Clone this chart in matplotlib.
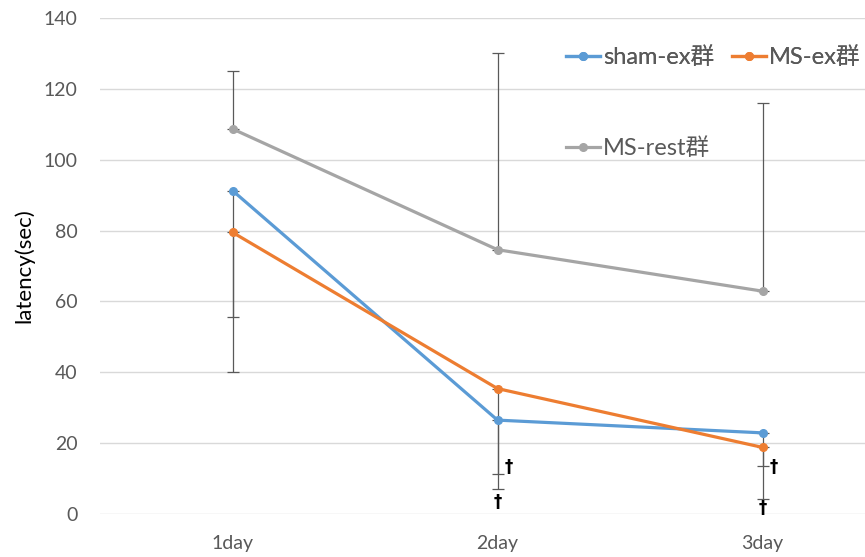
import matplotlib.pyplot as plt

plt.rcParams['font.family'] = ['Lato', 'Noto Sans CJK JP', 'DejaVu Sans']

days = ['1day', '2day', '3day']
sham_ex = [91.3, 26.5, 22.9]
ms_ex = [79.5, 35.4, 18.8]
ms_rest = [108.7, 74.6, 62.9]

# one-sided error bars (Excel style): sham/MS-ex go down, MS-rest goes up
sham_err_low = [51.3, 19.4, 18.7]
ms_ex_err_low = [23.9, 24.1, 5.2]
rest_err_high = [16.2, 55.6, 53.1]

# dagger marks (category index, value, x offset)
daggers = [(1, 13.2, 0.042), (1, 3.4, 0.0), (2, 13.4, 0.042), (2, 1.6, 0.0)]

blue = '#5B9BD5'
orange = '#ED7D31'
gray = '#A5A5A5'
ecol = '#595959'

fig = plt.figure(figsize=(8.65, 5.57), dpi=100)
ax = fig.add_axes([100 / 865, 43 / 557, 795 / 865, 496 / 557])

x = list(range(len(days)))

ax.errorbar(x, sham_ex, yerr=[sham_err_low, [0, 0, 0]], fmt='none', ecolor=ecol,
            elinewidth=0.9, capsize=4, capthick=0.9, zorder=2)
ax.errorbar(x, ms_ex, yerr=[ms_ex_err_low, [0, 0, 0]], fmt='none', ecolor=ecol,
            elinewidth=0.9, capsize=4, capthick=0.9, zorder=2)
ax.errorbar(x, ms_rest, yerr=[[0, 0, 0], rest_err_high], fmt='none', ecolor=ecol,
            elinewidth=0.9, capsize=4, capthick=0.9, zorder=2)

l1, = ax.plot(x, sham_ex, color=blue, lw=2.3, marker='o', ms=5.5, zorder=3, label='sham-ex群')
l2, = ax.plot(x, ms_ex, color=orange, lw=2.3, marker='o', ms=5.5, zorder=3, label='MS-ex群')
l3, = ax.plot(x, ms_rest, color=gray, lw=2.3, marker='o', ms=5.5, zorder=3, label='MS-rest群')

for i, v, dx in daggers:
    ax.text(i + dx, v, '†', ha='center', va='center', fontsize=12,
            fontweight='bold', color='black', family='DejaVu Sans', zorder=4)

ax.set_xlim(-0.5, 2.5)
ax.set_ylim(0, 140)
ax.set_yticks(range(0, 141, 20))
ax.set_xticks(x)
ax.set_xticklabels(days)
ax.yaxis.grid(True, color='#d9d9d9', lw=1)
ax.set_axisbelow(True)
for s in ax.spines.values():
    s.set_visible(False)
ax.tick_params(axis='both', length=0, labelsize=14, colors='#595959')
ax.tick_params(axis='y', pad=16)
ax.tick_params(axis='x', pad=15)
ax.set_ylabel('latency(sec)', fontsize=16, color='black', labelpad=7)

leg1 = fig.legend(handles=[l1, l2], ncol=2, frameon=False, fontsize=17,
                  loc='center left', bbox_to_anchor=(566 / 865, 1 - 57 / 557),
                  borderpad=0, borderaxespad=0, handlelength=1.45,
                  handletextpad=0.12, columnspacing=0.75, labelcolor='#595959')
fig.legend(handles=[l3], frameon=False, fontsize=17,
           loc='center left', bbox_to_anchor=(566 / 865, 1 - 148 / 557),
           borderpad=0, borderaxespad=0, handlelength=1.45,
           handletextpad=0.12, labelcolor='#595959')
fig.add_artist(leg1)

fig.savefig('out.png', dpi=100)
